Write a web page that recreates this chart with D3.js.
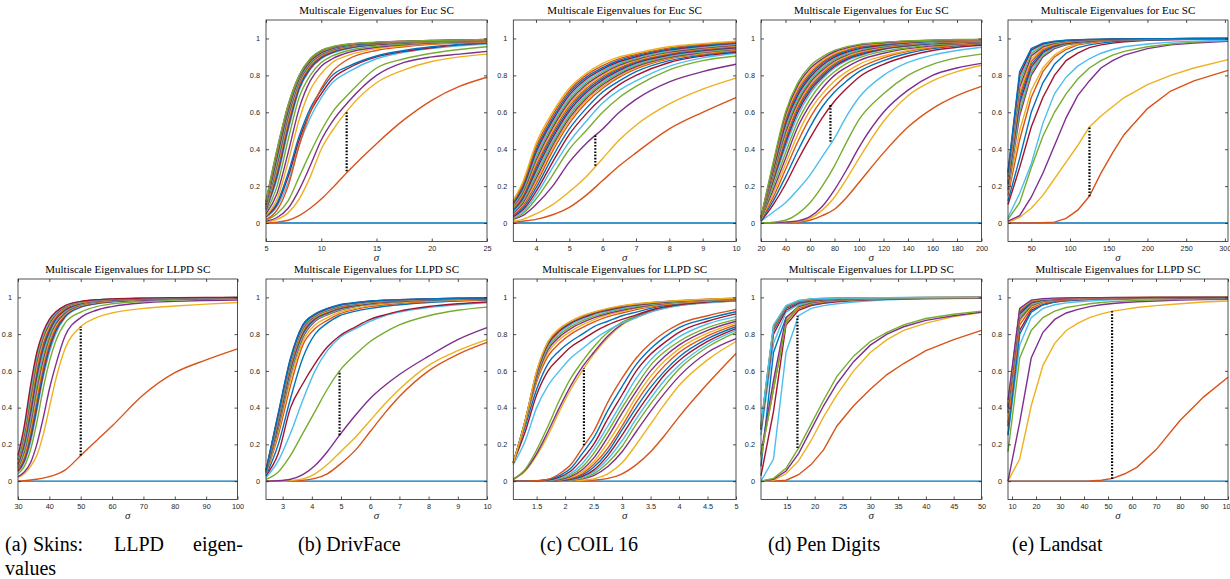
<!doctype html>
<html lang="en">
<head>
<meta charset="utf-8">
<title>Multiscale Eigenvalues</title>
<script src="https://cdnjs.cloudflare.com/ajax/libs/d3/7.8.5/d3.min.js"></script>
<style>
	body { margin: 0; background: #fff; }
	#chart svg { display: block; }
</style>
</head>
<body>
<div id="chart"></div>
<script>
/* data: one row per eigenvalue curve */
var yTicks = [0, 0.2, 0.4, 0.6, 0.8, 1];

// (a) Skins, LLPD
var skinsSigma = [30,32,34,36,38,40,42,45,50,55,60,70,80,90,100];
var skinsTicks = [30,40,50,60,70,80,90,100];
var skinsGap = [50, 0.14, 0.84];
var skinsEig = [
	[0,0,0,0,0,0,0,0,0,0,0,0,0,0,0],
	[0,0.003,0.006,0.01,0.016,0.025,0.035,0.06,0.14,0.22,0.3,0.47,0.59,0.66,0.72],
	[0.02,0.04,0.08,0.14,0.25,0.4,0.55,0.72,0.84,0.89,0.915,0.94,0.953,0.963,0.972],
	[0.025,0.05,0.1,0.2,0.34,0.5,0.63,0.79,0.89,0.93,0.95,0.97,0.978,0.983,0.986],
	[0.04,0.08,0.17,0.32,0.5,0.65,0.76,0.86,0.92,0.95,0.965,0.978,0.985,0.989,0.99],
	[0.05,0.1,0.21,0.38,0.56,0.7,0.8,0.89,0.945,0.965,0.975,0.985,0.99,0.993,0.995],
	[0.055,0.11,0.23,0.4,0.58,0.72,0.815,0.895,0.948,0.967,0.977,0.986,0.991,0.994,0.995],
	[0.06,0.12,0.25,0.42,0.6,0.735,0.825,0.9,0.95,0.969,0.978,0.987,0.992,0.994,0.996],
	[0.065,0.13,0.27,0.45,0.62,0.75,0.835,0.905,0.953,0.971,0.98,0.988,0.992,0.995,0.996],
	[0.07,0.145,0.29,0.47,0.64,0.765,0.845,0.91,0.956,0.973,0.981,0.989,0.993,0.995,0.996],
	[0.075,0.16,0.31,0.5,0.66,0.78,0.855,0.915,0.959,0.975,0.983,0.99,0.993,0.995,0.997],
	[0.08,0.17,0.33,0.52,0.68,0.79,0.865,0.92,0.961,0.977,0.984,0.99,0.994,0.996,0.997],
	[0.085,0.185,0.35,0.55,0.7,0.805,0.872,0.925,0.964,0.978,0.985,0.991,0.994,0.996,0.997],
	[0.09,0.2,0.37,0.57,0.72,0.815,0.88,0.93,0.966,0.98,0.986,0.992,0.995,0.997,0.998],
	[0.095,0.21,0.39,0.59,0.735,0.826,0.887,0.935,0.968,0.981,0.987,0.993,0.995,0.997,0.998],
	[0.1,0.225,0.41,0.61,0.75,0.836,0.894,0.939,0.97,0.982,0.988,0.993,0.996,0.997,0.998],
	[0.11,0.24,0.43,0.63,0.765,0.846,0.9,0.943,0.972,0.983,0.989,0.994,0.996,0.998,0.998],
	[0.115,0.255,0.45,0.65,0.78,0.855,0.906,0.946,0.974,0.984,0.99,0.994,0.997,0.998,0.999],
	[0.12,0.27,0.47,0.67,0.79,0.865,0.912,0.95,0.975,0.985,0.991,0.995,0.997,0.998,0.999],
	[0.13,0.285,0.5,0.69,0.8,0.873,0.916,0.953,0.977,0.986,0.991,0.995,0.997,0.998,0.999],
	[0.14,0.3,0.52,0.7,0.81,0.88,0.92,0.955,0.978,0.987,0.992,0.996,0.998,0.999,0.999]
];

// (b) DrivFace, Euclidean
var drivEucSigma = [5,6,7,8,9,10,11,12.5,15,17.5,20,22.5,25];
var drivEucTicks = [5,10,15,20,25];
var drivEucGap = [12.3, 0.28, 0.61];
var drivEucEig = [
	[0,0,0,0,0,0,0,0,0,0,0,0,0],
	[0,0.005,0.015,0.04,0.08,0.13,0.19,0.285,0.43,0.56,0.665,0.74,0.79],
	[0.005,0.02,0.055,0.13,0.25,0.4,0.5,0.62,0.76,0.83,0.875,0.9,0.915],
	[0.01,0.03,0.08,0.18,0.31,0.45,0.55,0.66,0.8,0.87,0.9,0.915,0.93],
	[0.015,0.05,0.12,0.25,0.38,0.5,0.6,0.7,0.84,0.89,0.92,0.94,0.955],
	[0.03,0.09,0.22,0.42,0.57,0.68,0.76,0.82,0.89,0.925,0.945,0.96,0.97],
	[0.035,0.1,0.25,0.45,0.6,0.7,0.78,0.84,0.9,0.93,0.95,0.965,0.975],
	[0.04,0.11,0.27,0.47,0.62,0.72,0.8,0.85,0.905,0.935,0.955,0.968,0.977],
	[0.02,0.07,0.2,0.42,0.6,0.73,0.82,0.89,0.935,0.955,0.968,0.975,0.98],
	[0.04,0.13,0.33,0.56,0.72,0.81,0.87,0.91,0.945,0.96,0.972,0.978,0.983],
	[0.05,0.16,0.38,0.62,0.77,0.85,0.89,0.925,0.952,0.966,0.975,0.981,0.985],
	[0.06,0.2,0.45,0.68,0.8,0.87,0.905,0.935,0.958,0.97,0.978,0.983,0.987],
	[0.07,0.24,0.5,0.72,0.83,0.89,0.92,0.945,0.965,0.975,0.982,0.986,0.989],
	[0.073,0.255,0.515,0.73,0.838,0.895,0.924,0.948,0.967,0.976,0.983,0.987,0.99],
	[0.076,0.27,0.53,0.74,0.845,0.9,0.928,0.951,0.969,0.977,0.984,0.987,0.99],
	[0.08,0.285,0.545,0.75,0.852,0.905,0.932,0.954,0.971,0.978,0.985,0.988,0.991],
	[0.083,0.3,0.56,0.757,0.858,0.909,0.935,0.956,0.972,0.979,0.985,0.988,0.991],
	[0.086,0.315,0.575,0.764,0.864,0.913,0.938,0.958,0.973,0.98,0.986,0.989,0.992],
	[0.09,0.33,0.59,0.771,0.87,0.917,0.941,0.96,0.974,0.981,0.986,0.989,0.992],
	[0.094,0.345,0.6,0.778,0.874,0.92,0.944,0.962,0.975,0.982,0.987,0.99,0.992],
	[0.098,0.36,0.61,0.784,0.878,0.923,0.946,0.964,0.976,0.983,0.987,0.99,0.993],
	[0.102,0.37,0.618,0.789,0.882,0.926,0.948,0.965,0.977,0.983,0.988,0.991,0.993],
	[0.106,0.38,0.625,0.793,0.885,0.929,0.95,0.967,0.978,0.984,0.988,0.991,0.993],
	[0.11,0.39,0.632,0.796,0.887,0.931,0.952,0.968,0.979,0.984,0.989,0.991,0.994],
	[0.115,0.395,0.637,0.798,0.889,0.933,0.953,0.969,0.979,0.985,0.989,0.992,0.994],
	[0.12,0.4,0.64,0.8,0.89,0.935,0.955,0.97,0.98,0.985,0.989,0.992,0.994]
];

// (c) COIL 16, Euclidean
var coilEucSigma = [3.32,3.6,4,4.5,5,5.5,6,6.5,7,8,9,10];
var coilEucTicks = [4,5,6,7,8,9,10];
var coilEucGap = [5.78, 0.31, 0.48];
var coilEucEig = [
	[0,0,0,0,0,0,0,0,0,0,0,0],
	[0.005,0.01,0.02,0.045,0.085,0.15,0.23,0.31,0.38,0.51,0.6,0.68],
	[0.01,0.02,0.05,0.1,0.17,0.25,0.35,0.45,0.53,0.645,0.725,0.785],
	[0.02,0.04,0.1,0.2,0.33,0.43,0.51,0.6,0.67,0.765,0.82,0.86],
	[0.025,0.05,0.13,0.26,0.4,0.5,0.6,0.68,0.74,0.83,0.88,0.905],
	[0.03,0.06,0.15,0.3,0.44,0.55,0.65,0.72,0.77,0.85,0.895,0.92],
	[0.035,0.07,0.17,0.33,0.48,0.59,0.68,0.75,0.8,0.87,0.905,0.925],
	[0.04,0.08,0.19,0.36,0.51,0.62,0.71,0.77,0.82,0.88,0.91,0.93],
	[0.045,0.09,0.21,0.39,0.54,0.65,0.73,0.79,0.835,0.89,0.915,0.935],
	[0.05,0.1,0.225,0.405,0.555,0.662,0.74,0.798,0.842,0.894,0.919,0.938],
	[0.055,0.107,0.24,0.42,0.568,0.673,0.749,0.806,0.848,0.898,0.923,0.941],
	[0.06,0.115,0.255,0.434,0.581,0.684,0.758,0.813,0.854,0.902,0.927,0.944],
	[0.065,0.123,0.27,0.448,0.594,0.695,0.767,0.82,0.86,0.906,0.931,0.947],
	[0.07,0.131,0.284,0.462,0.607,0.706,0.776,0.827,0.866,0.91,0.934,0.95],
	[0.075,0.139,0.298,0.476,0.62,0.717,0.785,0.834,0.871,0.914,0.938,0.953],
	[0.08,0.147,0.312,0.49,0.633,0.728,0.794,0.841,0.876,0.918,0.941,0.956],
	[0.085,0.155,0.326,0.504,0.645,0.739,0.802,0.848,0.881,0.922,0.945,0.96],
	[0.09,0.163,0.34,0.517,0.657,0.749,0.81,0.855,0.886,0.926,0.948,0.963],
	[0.095,0.171,0.354,0.53,0.669,0.759,0.818,0.862,0.891,0.93,0.952,0.967],
	[0.1,0.18,0.368,0.543,0.681,0.769,0.826,0.868,0.896,0.934,0.955,0.97],
	[0.105,0.188,0.382,0.556,0.693,0.779,0.834,0.875,0.901,0.938,0.959,0.974],
	[0.11,0.197,0.396,0.569,0.705,0.789,0.842,0.882,0.907,0.943,0.963,0.977],
	[0.118,0.208,0.412,0.585,0.717,0.8,0.853,0.891,0.913,0.949,0.968,0.981],
	[0.125,0.22,0.43,0.6,0.73,0.81,0.865,0.9,0.92,0.955,0.972,0.985]
];

// (d) Pen Digits, Euclidean
var penEucSigma = [20,30,40,50,60,70,80,90,100,120,140,160,180,200];
var penEucTicks = [20,40,60,80,100,120,140,160,180,200];
var penEucGap = [76.7, 0.44, 0.64];
var penEucEig = [
	[0,0,0,0,0,0,0,0,0,0,0,0,0,0],
	[0,0,0.002,0.005,0.015,0.04,0.075,0.14,0.22,0.38,0.52,0.62,0.69,0.74],
	[0,0.001,0.003,0.008,0.025,0.07,0.14,0.24,0.35,0.55,0.69,0.77,0.82,0.855],
	[0,0.002,0.005,0.012,0.035,0.09,0.18,0.29,0.41,0.6,0.72,0.8,0.84,0.865],
	[0,0.005,0.015,0.05,0.11,0.2,0.31,0.44,0.56,0.7,0.8,0.86,0.895,0.915],
	[0.01,0.06,0.11,0.18,0.26,0.36,0.46,0.58,0.68,0.8,0.87,0.91,0.935,0.952],
	[0.01,0.1,0.21,0.34,0.46,0.57,0.66,0.73,0.79,0.86,0.905,0.935,0.952,0.963],
	[0.015,0.12,0.25,0.39,0.52,0.63,0.71,0.77,0.82,0.88,0.92,0.945,0.96,0.97],
	[0.02,0.14,0.29,0.44,0.57,0.67,0.74,0.8,0.84,0.895,0.93,0.95,0.963,0.972],
	[0.02,0.16,0.32,0.48,0.61,0.7,0.77,0.82,0.86,0.905,0.935,0.955,0.967,0.975],
	[0.025,0.18,0.35,0.52,0.64,0.73,0.8,0.845,0.88,0.92,0.945,0.96,0.97,0.977],
	[0.025,0.2,0.38,0.55,0.67,0.76,0.82,0.865,0.895,0.93,0.95,0.965,0.973,0.98],
	[0.03,0.22,0.41,0.58,0.7,0.78,0.84,0.88,0.905,0.94,0.958,0.97,0.977,0.982],
	[0.03,0.23,0.43,0.6,0.715,0.79,0.848,0.886,0.91,0.943,0.96,0.972,0.978,0.983],
	[0.03,0.24,0.445,0.615,0.727,0.8,0.856,0.892,0.916,0.946,0.963,0.974,0.98,0.984],
	[0.03,0.248,0.46,0.628,0.738,0.81,0.864,0.898,0.921,0.949,0.966,0.976,0.981,0.985],
	[0.03,0.256,0.475,0.641,0.749,0.819,0.871,0.904,0.926,0.952,0.968,0.977,0.983,0.986],
	[0.03,0.264,0.49,0.654,0.76,0.828,0.878,0.91,0.931,0.955,0.97,0.979,0.984,0.987],
	[0.03,0.272,0.505,0.667,0.77,0.837,0.885,0.915,0.936,0.958,0.972,0.981,0.985,0.988],
	[0.03,0.28,0.52,0.68,0.78,0.846,0.892,0.92,0.94,0.961,0.975,0.982,0.987,0.989],
	[0.03,0.288,0.535,0.693,0.79,0.855,0.899,0.926,0.945,0.964,0.977,0.984,0.988,0.99],
	[0.03,0.296,0.55,0.706,0.8,0.864,0.906,0.932,0.95,0.967,0.979,0.985,0.989,0.991],
	[0.03,0.304,0.562,0.719,0.81,0.872,0.913,0.938,0.955,0.971,0.981,0.987,0.99,0.992],
	[0.03,0.312,0.575,0.732,0.822,0.881,0.92,0.943,0.96,0.974,0.983,0.988,0.991,0.993],
	[0.03,0.32,0.588,0.746,0.836,0.89,0.928,0.949,0.964,0.977,0.985,0.99,0.993,0.994],
	[0.03,0.33,0.6,0.76,0.85,0.9,0.935,0.955,0.968,0.98,0.987,0.991,0.994,0.995]
];

// (e) Landsat, Euclidean
var landEucSigma = [20,35,50,65,80,95,110,125,140,155,170,200,230,260,304];
var landEucTicks = [50,100,150,200,250,300];
var landEucGap = [125.2, 0.145, 0.52];
var landEucEig = [
	[0,0,0,0,0,0,0,0,0,0,0,0,0,0,0],
	[0,0,0,0.002,0.005,0.025,0.07,0.145,0.27,0.38,0.48,0.62,0.715,0.77,0.827],
	[0.005,0.03,0.08,0.15,0.24,0.33,0.42,0.52,0.58,0.63,0.68,0.75,0.8,0.84,0.885],
	[0.01,0.04,0.14,0.27,0.42,0.57,0.69,0.77,0.84,0.88,0.91,0.945,0.965,0.975,0.985],
	[0.02,0.11,0.3,0.47,0.6,0.7,0.78,0.84,0.88,0.91,0.93,0.955,0.97,0.98,0.988],
	[0.03,0.16,0.32,0.54,0.7,0.79,0.85,0.89,0.92,0.94,0.955,0.97,0.98,0.985,0.99],
	[0.1,0.3,0.52,0.68,0.8,0.88,0.92,0.95,0.965,0.975,0.982,0.99,0.993,0.995,0.997],
	[0.12,0.35,0.6,0.76,0.86,0.92,0.95,0.965,0.975,0.982,0.987,0.992,0.995,0.997,0.998],
	[0.15,0.45,0.68,0.82,0.9,0.94,0.965,0.975,0.983,0.988,0.991,0.994,0.996,0.997,0.998],
	[0.17,0.5,0.72,0.84,0.91,0.95,0.97,0.98,0.986,0.99,0.992,0.995,0.997,0.998,0.999],
	[0.18,0.58,0.8,0.9,0.945,0.965,0.975,0.982,0.987,0.99,0.992,0.995,0.997,0.998,0.999],
	[0.19,0.6,0.815,0.908,0.95,0.968,0.977,0.984,0.988,0.991,0.993,0.995,0.997,0.998,0.999],
	[0.2,0.625,0.83,0.916,0.954,0.971,0.979,0.985,0.989,0.991,0.993,0.996,0.997,0.998,0.999],
	[0.21,0.65,0.845,0.924,0.958,0.973,0.981,0.986,0.99,0.992,0.994,0.996,0.997,0.998,0.999],
	[0.22,0.67,0.86,0.932,0.962,0.976,0.983,0.988,0.991,0.993,0.995,0.997,0.998,0.999,0.999],
	[0.23,0.69,0.875,0.94,0.966,0.978,0.985,0.989,0.992,0.994,0.995,0.997,0.998,0.999,1],
	[0.24,0.71,0.89,0.947,0.97,0.981,0.987,0.99,0.993,0.994,0.996,0.997,0.998,0.999,1],
	[0.25,0.735,0.905,0.954,0.974,0.983,0.988,0.991,0.993,0.995,0.996,0.998,0.999,0.999,1],
	[0.26,0.76,0.918,0.961,0.978,0.985,0.99,0.992,0.994,0.996,0.997,0.998,0.999,1,1],
	[0.265,0.78,0.93,0.967,0.981,0.987,0.991,0.993,0.995,0.996,0.997,0.998,0.999,1,1],
	[0.272,0.8,0.938,0.971,0.983,0.989,0.992,0.994,0.995,0.997,0.998,0.999,0.999,1,1],
	[0.28,0.82,0.945,0.975,0.985,0.99,0.993,0.995,0.996,0.997,0.998,0.999,0.999,1,1]
];

// (b) DrivFace, LLPD
var drivLlpdSigma = [2.43,2.85,3.27,3.69,4.11,4.53,4.95,5.5,6,6.5,7,8,9,10];
var drivLlpdTicks = [3,4,5,6,7,8,9,10];
var drivLlpdGap = [4.95, 0.25, 0.6];
var drivLlpdEig = [
	[0,0,0,0,0,0,0,0,0,0,0,0,0,0],
	[0,0,0.002,0.005,0.015,0.04,0.09,0.17,0.27,0.37,0.46,0.6,0.69,0.755],
	[0,0,0.003,0.012,0.04,0.09,0.155,0.24,0.33,0.42,0.5,0.63,0.71,0.77],
	[0,0.002,0.01,0.035,0.085,0.16,0.25,0.36,0.45,0.52,0.58,0.68,0.77,0.835],
	[0.01,0.05,0.14,0.26,0.38,0.5,0.6,0.69,0.76,0.81,0.85,0.9,0.93,0.947],
	[0.02,0.11,0.26,0.44,0.6,0.71,0.78,0.83,0.87,0.9,0.92,0.945,0.96,0.97],
	[0.03,0.15,0.4,0.53,0.64,0.73,0.79,0.84,0.88,0.905,0.925,0.95,0.965,0.975],
	[0.03,0.2,0.45,0.67,0.8,0.86,0.9,0.925,0.94,0.952,0.96,0.972,0.98,0.985],
	[0.04,0.25,0.52,0.74,0.83,0.875,0.91,0.935,0.95,0.96,0.967,0.977,0.983,0.988],
	[0.04,0.27,0.55,0.76,0.85,0.89,0.92,0.94,0.955,0.965,0.972,0.98,0.986,0.99],
	[0.045,0.29,0.58,0.78,0.87,0.905,0.93,0.95,0.962,0.97,0.976,0.984,0.989,0.992],
	[0.046,0.3,0.59,0.788,0.874,0.908,0.933,0.952,0.964,0.971,0.977,0.985,0.99,0.993],
	[0.047,0.307,0.6,0.795,0.878,0.911,0.936,0.954,0.965,0.973,0.978,0.986,0.99,0.993],
	[0.049,0.315,0.61,0.802,0.882,0.914,0.939,0.956,0.967,0.974,0.979,0.987,0.991,0.994],
	[0.05,0.322,0.618,0.809,0.886,0.918,0.942,0.958,0.969,0.976,0.981,0.987,0.991,0.994],
	[0.051,0.33,0.627,0.815,0.89,0.921,0.944,0.96,0.971,0.977,0.982,0.988,0.992,0.995],
	[0.053,0.337,0.635,0.822,0.894,0.924,0.947,0.962,0.972,0.979,0.983,0.989,0.993,0.995],
	[0.054,0.344,0.643,0.829,0.898,0.928,0.95,0.964,0.974,0.98,0.984,0.99,0.993,0.996],
	[0.056,0.35,0.65,0.835,0.901,0.931,0.952,0.966,0.976,0.981,0.985,0.99,0.994,0.996],
	[0.057,0.357,0.658,0.841,0.904,0.934,0.955,0.968,0.977,0.983,0.986,0.991,0.994,0.996],
	[0.059,0.363,0.664,0.846,0.907,0.937,0.958,0.97,0.979,0.984,0.987,0.992,0.995,0.997],
	[0.06,0.37,0.67,0.85,0.91,0.94,0.96,0.972,0.98,0.985,0.988,0.992,0.995,0.997]
];

// (c) COIL 16, LLPD
var coilLlpdSigma = [1.09,1.3,1.5,1.7,1.9,2.1,2.3,2.5,2.75,3,3.25,3.5,3.75,4,4.5,5];
var coilLlpdTicks = [1.5,2,2.5,3,3.5,4,4.5,5];
var coilLlpdGap = [2.33, 0.195, 0.615];
var coilLlpdEig = [
	[0,0,0,0,0,0,0,0,0,0,0,0,0,0,0,0],
	[0,0,0,0,0,0,0.002,0.005,0.015,0.04,0.09,0.16,0.25,0.35,0.53,0.695],
	[0,0,0,0,0,0.002,0.005,0.012,0.04,0.1,0.2,0.31,0.42,0.52,0.66,0.76],
	[0,0,0,0,0.002,0.005,0.012,0.03,0.08,0.16,0.27,0.38,0.48,0.57,0.7,0.775],
	[0,0,0,0,0.002,0.006,0.015,0.04,0.1,0.19,0.31,0.42,0.52,0.61,0.73,0.81],
	[0,0,0,0,0.003,0.008,0.02,0.05,0.12,0.22,0.34,0.45,0.55,0.63,0.745,0.82],
	[0,0,0,0,0.003,0.01,0.026,0.06,0.14,0.25,0.37,0.48,0.58,0.655,0.76,0.83],
	[0,0,0,0.001,0.004,0.013,0.032,0.075,0.16,0.28,0.4,0.51,0.6,0.675,0.775,0.84],
	[0,0,0,0.001,0.005,0.016,0.04,0.09,0.18,0.3,0.43,0.54,0.63,0.7,0.79,0.85],
	[0,0,0,0.002,0.007,0.02,0.05,0.105,0.21,0.33,0.46,0.57,0.655,0.72,0.805,0.86],
	[0,0,0,0.002,0.009,0.026,0.062,0.125,0.24,0.37,0.49,0.6,0.68,0.74,0.82,0.87],
	[0,0,0,0.003,0.012,0.033,0.077,0.15,0.27,0.4,0.52,0.63,0.705,0.76,0.835,0.88],
	[0,0,0.001,0.004,0.016,0.042,0.095,0.175,0.3,0.43,0.56,0.66,0.73,0.785,0.855,0.895],
	[0,0,0.001,0.006,0.022,0.055,0.12,0.2,0.34,0.47,0.6,0.69,0.755,0.81,0.87,0.91],
	[0,0,0.002,0.008,0.03,0.07,0.15,0.235,0.385,0.515,0.635,0.72,0.785,0.835,0.885,0.922],
	[0,0,0.002,0.01,0.04,0.09,0.18,0.27,0.43,0.56,0.67,0.75,0.81,0.855,0.9,0.935],
	[0.01,0.055,0.14,0.25,0.38,0.5,0.6,0.69,0.78,0.85,0.89,0.92,0.94,0.955,0.97,0.98],
	[0.01,0.06,0.15,0.27,0.4,0.52,0.62,0.7,0.79,0.855,0.895,0.925,0.945,0.958,0.973,0.982],
	[0.012,0.065,0.17,0.3,0.44,0.56,0.65,0.73,0.81,0.865,0.9,0.93,0.948,0.96,0.975,0.984],
	[0.09,0.22,0.4,0.52,0.6,0.67,0.72,0.77,0.82,0.86,0.89,0.92,0.94,0.955,0.972,0.982],
	[0.1,0.27,0.47,0.6,0.67,0.73,0.77,0.81,0.85,0.88,0.905,0.93,0.948,0.96,0.975,0.984],
	[0.1,0.3,0.5,0.64,0.71,0.76,0.8,0.84,0.87,0.9,0.92,0.94,0.955,0.965,0.978,0.986],
	[0.1,0.32,0.54,0.68,0.75,0.8,0.835,0.865,0.895,0.915,0.933,0.948,0.96,0.968,0.98,0.987],
	[0.1,0.32,0.55,0.7,0.77,0.815,0.85,0.878,0.905,0.923,0.94,0.953,0.963,0.971,0.982,0.988],
	[0.1,0.325,0.56,0.715,0.785,0.83,0.862,0.888,0.912,0.93,0.945,0.957,0.966,0.974,0.984,0.99],
	[0.1,0.327,0.57,0.727,0.797,0.841,0.872,0.897,0.919,0.936,0.95,0.961,0.969,0.976,0.985,0.991],
	[0.1,0.328,0.578,0.737,0.808,0.851,0.881,0.905,0.925,0.941,0.954,0.964,0.972,0.978,0.987,0.992],
	[0.1,0.329,0.585,0.745,0.817,0.859,0.888,0.911,0.93,0.946,0.958,0.967,0.974,0.98,0.988,0.993],
	[0.1,0.33,0.59,0.752,0.824,0.865,0.894,0.916,0.934,0.95,0.961,0.969,0.976,0.981,0.989,0.994],
	[0.1,0.33,0.595,0.757,0.828,0.869,0.897,0.918,0.937,0.953,0.963,0.971,0.977,0.982,0.99,0.995],
	[0.1,0.33,0.6,0.76,0.83,0.87,0.9,0.92,0.94,0.955,0.965,0.972,0.978,0.983,0.99,0.995]
];

// (d) Pen Digits, LLPD
var penLlpdSigma = [10.35,12.6,14.85,17.1,19.35,21.6,24,27,30,33,36,40,45,50];
var penLlpdTicks = [15,20,25,30,35,40,45,50];
var penLlpdGap = [16.9, 0.18, 0.9];
var penLlpdEig = [
	[0,0,0,0,0,0,0,0,0,0,0,0,0,0],
	[0,0,0.005,0.035,0.09,0.17,0.3,0.41,0.5,0.58,0.64,0.71,0.77,0.82],
	[0,0.005,0.04,0.11,0.22,0.35,0.47,0.6,0.7,0.77,0.82,0.86,0.895,0.917],
	[0,0.01,0.055,0.15,0.28,0.41,0.53,0.65,0.74,0.8,0.84,0.875,0.9,0.92],
	[0,0.015,0.07,0.18,0.31,0.44,0.57,0.68,0.76,0.81,0.85,0.885,0.908,0.925],
	[0,0.12,0.7,0.9,0.94,0.955,0.965,0.975,0.982,0.987,0.99,0.992,0.994,0.995],
	[0.03,0.38,0.85,0.93,0.955,0.968,0.976,0.983,0.987,0.99,0.992,0.994,0.995,0.996],
	[0.08,0.7,0.89,0.94,0.96,0.972,0.98,0.985,0.989,0.992,0.993,0.995,0.996,0.997],
	[0.14,0.5,0.87,0.94,0.963,0.975,0.982,0.987,0.99,0.993,0.994,0.996,0.997,0.997],
	[0.13,0.52,0.88,0.945,0.967,0.977,0.984,0.988,0.991,0.993,0.995,0.996,0.997,0.998],
	[0.15,0.55,0.89,0.95,0.97,0.98,0.986,0.989,0.992,0.994,0.995,0.996,0.997,0.998],
	[0.14,0.5,0.86,0.955,0.975,0.983,0.988,0.991,0.993,0.995,0.996,0.997,0.998,0.998],
	[0.25,0.75,0.92,0.96,0.978,0.985,0.989,0.992,0.994,0.995,0.996,0.997,0.998,0.998],
	[0.28,0.8,0.93,0.967,0.981,0.987,0.99,0.993,0.995,0.996,0.997,0.998,0.998,0.999],
	[0.28,0.82,0.94,0.972,0.984,0.989,0.992,0.994,0.995,0.996,0.997,0.998,0.998,0.999],
	[0.29,0.83,0.945,0.976,0.986,0.99,0.993,0.995,0.996,0.997,0.998,0.998,0.999,0.999],
	[0.3,0.835,0.948,0.978,0.988,0.992,0.994,0.995,0.996,0.997,0.998,0.998,0.999,0.999],
	[0.3,0.84,0.95,0.98,0.99,0.993,0.995,0.996,0.997,0.998,0.998,0.999,0.999,0.999],
	[0.3,0.845,0.952,0.982,0.991,0.994,0.995,0.996,0.997,0.998,0.998,0.999,0.999,1],
	[0.31,0.85,0.955,0.983,0.992,0.995,0.996,0.997,0.998,0.998,0.999,0.999,1,1]
];

// (e) Landsat, LLPD
var landLlpdSigma = [8.33,13.2,18,22.9,27.8,32.6,37.5,42.3,47.2,52,57,62,70,80,90,100];
var landLlpdTicks = [10,20,30,40,50,60,70,80,90,100];
var landLlpdGap = [51.7, 0.012, 0.925];
var landLlpdEig = [
	[0,0,0,0,0,0,0,0,0,0,0,0,0,0,0,0],
	[0,0,0,0,0,0,0,0.001,0.005,0.015,0.04,0.075,0.17,0.33,0.46,0.565],
	[0,0.12,0.41,0.63,0.75,0.82,0.86,0.89,0.91,0.925,0.935,0.945,0.955,0.965,0.975,0.98],
	[0,0.32,0.67,0.81,0.88,0.915,0.935,0.95,0.96,0.967,0.972,0.976,0.98,0.985,0.988,0.99],
	[0.16,0.67,0.82,0.89,0.925,0.945,0.955,0.965,0.972,0.977,0.98,0.983,0.987,0.99,0.992,0.994],
	[0.25,0.74,0.89,0.94,0.96,0.97,0.976,0.98,0.984,0.987,0.989,0.99,0.992,0.994,0.995,0.996],
	[0.3,0.82,0.93,0.96,0.975,0.982,0.986,0.989,0.991,0.993,0.994,0.995,0.996,0.997,0.997,0.998],
	[0.25,0.8,0.92,0.96,0.976,0.983,0.987,0.99,0.992,0.993,0.994,0.995,0.996,0.997,0.998,0.998],
	[0.32,0.85,0.94,0.97,0.98,0.986,0.99,0.992,0.993,0.994,0.995,0.996,0.997,0.998,0.998,0.999],
	[0.35,0.87,0.95,0.975,0.984,0.989,0.992,0.993,0.994,0.995,0.996,0.997,0.998,0.998,0.999,0.999],
	[0.37,0.88,0.955,0.978,0.986,0.99,0.993,0.994,0.995,0.996,0.997,0.997,0.998,0.998,0.999,0.999],
	[0.38,0.89,0.96,0.98,0.988,0.991,0.993,0.995,0.996,0.996,0.997,0.998,0.998,0.999,0.999,0.999],
	[0.39,0.9,0.965,0.983,0.989,0.992,0.994,0.995,0.996,0.997,0.997,0.998,0.998,0.999,0.999,0.999],
	[0.4,0.91,0.97,0.985,0.99,0.993,0.995,0.996,0.997,0.997,0.998,0.998,0.999,0.999,0.999,1],
	[0.41,0.92,0.975,0.987,0.992,0.994,0.995,0.996,0.997,0.998,0.998,0.998,0.999,0.999,1,1],
	[0.42,0.93,0.978,0.989,0.993,0.995,0.996,0.997,0.997,0.998,0.998,0.999,0.999,0.999,1,1],
	[0.43,0.935,0.982,0.991,0.994,0.996,0.997,0.997,0.998,0.998,0.999,0.999,0.999,1,1,1],
	[0.44,0.94,0.985,0.993,0.996,0.997,0.998,0.998,0.998,0.999,0.999,0.999,1,1,1,1]
];

var titleEuc = 'Multiscale Eigenvalues for Euc SC';
var titleLlpd = 'Multiscale Eigenvalues for LLPD SC';
var captions = ['(b) DrivFace', '(c) COIL 16', '(d) Pen Digits', '(e) Landsat'];
var captionA = ['(a)', 'Skins:', 'LLPD', 'eigen-'];

/* view */
// matlab default line colours, cycled per eigenvalue index
var colors = ['#0072BD', '#D95319', '#EDB120', '#7E2F8E', '#77AC30', '#4DBEEE', '#A2142F'];

var topY = [20, 241.5], botY = [279, 499.5];
var panels = [
	{ sigma: drivEucSigma, eig: drivEucEig, gap: drivEucGap, ticks: drivEucTicks, title: titleEuc, xr: [266, 487], yr: topY, curve: d3.curveMonotoneX },
	{ sigma: coilEucSigma, eig: coilEucEig, gap: coilEucGap, ticks: coilEucTicks, title: titleEuc, xr: [513.3, 736], yr: topY, curve: d3.curveMonotoneX },
	{ sigma: penEucSigma, eig: penEucEig, gap: penEucGap, ticks: penEucTicks, title: titleEuc, xr: [761, 981.5], yr: topY, curve: d3.curveMonotoneX },
	{ sigma: landEucSigma, eig: landEucEig, gap: landEucGap, ticks: landEucTicks, title: titleEuc, xr: [1008, 1228], yr: topY, curve: d3.curveLinear },
	{ sigma: skinsSigma, eig: skinsEig, gap: skinsGap, ticks: skinsTicks, title: titleLlpd, xr: [18, 237.5], yr: botY, curve: d3.curveMonotoneX },
	{ sigma: drivLlpdSigma, eig: drivLlpdEig, gap: drivLlpdGap, ticks: drivLlpdTicks, title: titleLlpd, xr: [266, 487], yr: botY, curve: d3.curveMonotoneX },
	{ sigma: coilLlpdSigma, eig: coilLlpdEig, gap: coilLlpdGap, ticks: coilLlpdTicks, title: titleLlpd, xr: [513.3, 736], yr: botY, curve: d3.curveMonotoneX },
	{ sigma: penLlpdSigma, eig: penLlpdEig, gap: penLlpdGap, ticks: penLlpdTicks, title: titleLlpd, xr: [761, 981.5], yr: botY, curve: d3.curveLinear },
	{ sigma: landLlpdSigma, eig: landLlpdEig, gap: landLlpdGap, ticks: landLlpdTicks, title: titleLlpd, xr: [1008, 1228], yr: botY, curve: d3.curveLinear }
];

var svg = d3.select('#chart').append('svg')
	.attr('width', 1230)
	.attr('height', 579)
	.style('background', '#fff');

var axisColor = '#262626';
var tickFont = '"Liberation Sans", Arial, sans-serif';
var serif = '"Liberation Serif", "Times New Roman", serif';

function styleAxis(sel){
	sel.select('.domain').remove();
	sel.selectAll('.tick line').attr('stroke', axisColor).attr('stroke-width', 0.8);
	sel.selectAll('.tick text')
		.attr('fill', axisColor)
		.style('font-family', tickFont)
		.style('font-size', '7.3px');
}

panels.forEach(function(p){
	var x = d3.scaleLinear().domain(d3.extent(p.sigma)).range(p.xr);
	var y = d3.scaleLinear().domain([-0.1, 1.1]).range([p.yr[1], p.yr[0]]);
	var g = svg.append('g');
	var fmt = d3.format('~g');

	var line = d3.line()
		.x(function(d, i){ return x(p.sigma[i]); })
		.y(function(d){ return y(d); })
		.curve(p.curve);

	g.selectAll('path.eig')
		.data(p.eig)
		.join('path')
		.attr('class', 'eig')
		.attr('d', line)
		.attr('fill', 'none')
		.attr('stroke', function(d, i){ return colors[i % colors.length]; })
		.attr('stroke-width', 1.4);

	// dotted marker for the largest eigengap
	g.append('line')
		.attr('x1', x(p.gap[0])).attr('x2', x(p.gap[0]))
		.attr('y1', y(p.gap[1])).attr('y2', y(p.gap[2]))
		.attr('stroke', '#000')
		.attr('stroke-width', 2.2)
		.attr('stroke-dasharray', '1.6,1.6');

	g.append('g')
		.attr('transform', 'translate(0,' + p.yr[1] + ')')
		.call(d3.axisBottom(x).tickValues(p.ticks).tickFormat(fmt).tickSizeInner(-3).tickSizeOuter(0).tickPadding(4))
		.call(styleAxis);
	g.append('g')
		.attr('transform', 'translate(0,' + p.yr[0] + ')')
		.call(d3.axisTop(x).tickValues(p.ticks).tickFormat('').tickSizeInner(-3).tickSizeOuter(0))
		.call(styleAxis);
	g.append('g')
		.attr('transform', 'translate(' + p.xr[0] + ',0)')
		.call(d3.axisLeft(y).tickValues(yTicks).tickFormat(fmt).tickSizeInner(-3).tickSizeOuter(0).tickPadding(6))
		.call(styleAxis);
	g.append('g')
		.attr('transform', 'translate(' + p.xr[1] + ',0)')
		.call(d3.axisRight(y).tickValues(yTicks).tickFormat('').tickSizeInner(-3).tickSizeOuter(0))
		.call(styleAxis);

	g.append('rect')
		.attr('x', p.xr[0]).attr('y', p.yr[0])
		.attr('width', p.xr[1] - p.xr[0]).attr('height', p.yr[1] - p.yr[0])
		.attr('fill', 'none')
		.attr('stroke', axisColor)
		.attr('stroke-width', 0.8);

	var cx = (p.xr[0] + p.xr[1]) / 2;
	g.append('text')
		.attr('x', cx).attr('y', p.yr[0] - 6)
		.attr('text-anchor', 'middle')
		.style('font-family', serif)
		.style('font-size', '11px')
		.attr('fill', '#000')
		.text(p.title);
	g.append('text')
		.attr('x', cx).attr('y', p.yr[1] + 19)
		.attr('text-anchor', 'middle')
		.style('font-family', serif)
		.style('font-style', 'italic')
		.style('font-size', '11px')
		.attr('fill', '#262626')
		.text('σ');
});

/* sub-figure captions */
var capStyle = function(sel){
	sel.style('font-family', serif).style('font-size', '20px').attr('fill', '#000');
};
// first caption is justified over two lines, so its words are spread out
var capAx = [5, 33, 114, 243];
captionA.forEach(function(w, i){
	svg.append('text')
		.attr('x', capAx[i]).attr('y', 551)
		.attr('text-anchor', i === captionA.length - 1 ? 'end' : 'start')
		.text(w)
		.call(capStyle);
});
svg.append('text').attr('x', 5).attr('y', 575).text('values').call(capStyle);

var capX = [298, 540, 768, 1012];
captions.forEach(function(c, i){
	svg.append('text')
		.attr('x', capX[i]).attr('y', 551)
		.text(c)
		.call(capStyle);
});
</script>
</body>
</html>
